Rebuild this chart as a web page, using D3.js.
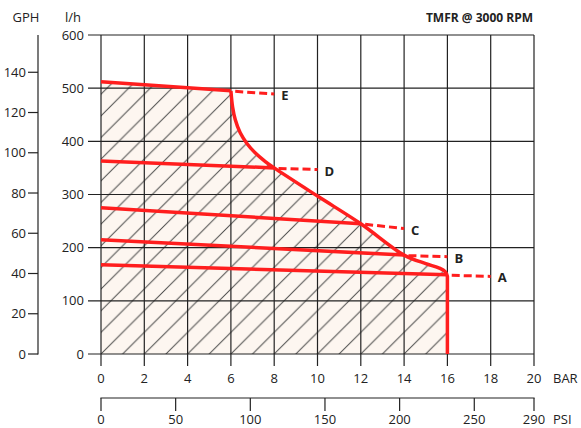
<!DOCTYPE html>
<html>
<head>
<meta charset="utf-8">
<script src="https://cdn.jsdelivr.net/npm/d3@7"></script>
<style>
  body { margin: 0; background: #fff; }
  text { font-family: "Open Sans", "DejaVu Sans", sans-serif; fill: #222; }
</style>
</head>
<body>
<svg id="chart" width="581" height="428"></svg>
<script>
// axis ticks
var barTicks = [0, 2, 4, 6, 8, 10, 12, 14, 16, 18, 20];
var lhTicks = [0, 100, 200, 300, 400, 500, 600];
var gphTicks = [0, 20, 40, 60, 80, 100, 120, 140];
var psiTicks = [0, 50, 100, 150, 200, 250, 290];

// operating envelope (bar, l/h)
var envelopeTop = [[0, 512], [6, 495]];
var envelopeCurve = [
  [6, 495], [6.08, 464], [6.2, 441], [6.43, 416], [6.74, 396], [7.13, 378],
  [7.59, 362], [8, 350], [10, 297], [12, 245], [14, 186], [15, 170],
  [15.6, 162], [15.9, 155], [16, 146]
];
var maxPressure = 16;

// flow curves: label, solid start, junction with envelope, dashed end
var curveNames = ["A", "B", "C", "D", "E"];
var curveStart = [[0, 168], [0, 215], [0, 275], [0, 363], [0, 512]];
var curveJoin = [[16, 149], [14, 186], [12, 245], [8, 350], [6, 495]];
var curveEnd = [[18, 146], [16, 183], [14, 236], [10, 347], [8, 489]];

var svg = d3.select("#chart");
var red = "#ff1e1e";

var x = d3.scaleLinear().domain([0, 20]).range([101, 534]);
var y = d3.scaleLinear().domain([0, 600]).range([354, 35]);
var gph = d3.scaleLinear().domain([0, 600 / 3.785]).range([354, 35]);
var psi = d3.scaleLinear().domain([0, 290]).range([101, 534]);

// hatch pattern
var defs = svg.append("defs");
var pat = defs.append("pattern")
  .attr("id", "hatch")
  .attr("patternUnits", "userSpaceOnUse")
  .attr("width", 21.65).attr("height", 21.65)
  .attr("x", x(0)).attr("y", y(0));
pat.append("rect").attr("width", 21.65).attr("height", 21.65).attr("fill", "#fdf6f0");
pat.append("path")
  .attr("d", "M0,21.65 L21.65,0 M-5,5 L5,-5 M16.65,26.65 L26.65,16.65")
  .attr("stroke", "#4a4a4a").attr("stroke-width", 1);

var straight = d3.line().x(d => x(d[0])).y(d => y(d[1]));
var smooth = d3.line().x(d => x(d[0])).y(d => y(d[1])).curve(d3.curveCatmullRom.alpha(0.5));

var curvePath = smooth(envelopeCurve);
var fillPath = "M" + x(0) + "," + y(envelopeTop[0][1]) + "L" + curvePath.slice(1)
  + "L" + x(maxPressure) + "," + y(0) + "L" + x(0) + "," + y(0) + "Z";
svg.append("path").attr("d", fillPath).attr("fill", "url(#hatch)");

// grid
var grid = svg.append("g").attr("stroke", "#222").attr("stroke-width", 1.2);
grid.selectAll(".v").data(barTicks).join("line")
  .attr("x1", d => x(d)).attr("x2", d => x(d))
  .attr("y1", y(600)).attr("y2", y(0) + 12);
grid.selectAll(".h").data(lhTicks).join("line")
  .attr("x1", x(0) - 13).attr("x2", x(20))
  .attr("y1", d => y(d)).attr("y2", d => y(d));

// bar labels
svg.append("g").selectAll("text").data(barTicks).join("text")
  .attr("x", d => x(d)).attr("y", 383)
  .attr("text-anchor", "middle").attr("font-size", 13)
  .text(d => d);
svg.append("text").attr("x", 553).attr("y", 383).attr("font-size", 13).text("BAR");

// l/h labels
svg.append("g").selectAll("text").data(lhTicks).join("text")
  .attr("x", 84).attr("y", d => y(d) + 4.5)
  .attr("text-anchor", "end").attr("font-size", 13)
  .text(d => d);
svg.append("text").attr("x", 73).attr("y", 22).attr("text-anchor", "middle")
  .attr("font-size", 13).text("l/h");

// GPH axis
var gAxis = svg.append("g").attr("stroke", "#222").attr("stroke-width", 1.2);
gAxis.append("line").attr("x1", 38).attr("x2", 38).attr("y1", y(600)).attr("y2", y(0) + 0.6);
gAxis.selectAll(".t").data(gphTicks).join("line")
  .attr("x1", 28).attr("x2", 38)
  .attr("y1", d => gph(d)).attr("y2", d => gph(d));
svg.append("g").selectAll("text").data(gphTicks).join("text")
  .attr("x", 26).attr("y", d => gph(d) + 4.5)
  .attr("text-anchor", "end").attr("font-size", 13)
  .text(d => d);
svg.append("text").attr("x", 26).attr("y", 22).attr("text-anchor", "middle")
  .attr("font-size", 13).text("GPH");

// PSI axis
var pAxis = svg.append("g").attr("stroke", "#222").attr("stroke-width", 1.2);
pAxis.append("line").attr("x1", psi(0) - 0.6).attr("x2", psi(290) + 0.6).attr("y1", 398).attr("y2", 398);
pAxis.selectAll(".t").data(psiTicks).join("line")
  .attr("x1", d => psi(d)).attr("x2", d => psi(d))
  .attr("y1", 398).attr("y2", 411);
svg.append("g").selectAll("text").data(psiTicks).join("text")
  .attr("x", d => psi(d)).attr("y", 424)
  .attr("text-anchor", "middle").attr("font-size", 13)
  .text(d => d);
svg.append("text").attr("x", 553).attr("y", 424).attr("font-size", 13).text("PSI");

// title
svg.append("text").attr("x", 533).attr("y", 22).attr("text-anchor", "end")
  .attr("font-size", 12).attr("font-weight", "bold").text("TMFR @ 3000 RPM");

// envelope boundary
svg.append("path")
  .attr("d", curvePath + "L" + x(maxPressure) + "," + y(0))
  .attr("fill", "none").attr("stroke", red).attr("stroke-width", 3.5)
  .attr("stroke-linejoin", "round");

// flow curves
curveNames.forEach((name, i) => {
  svg.append("path")
    .attr("d", straight([curveStart[i], curveJoin[i]]))
    .attr("fill", "none").attr("stroke", red).attr("stroke-width", 3.5);
  svg.append("path")
    .attr("d", straight([[curveJoin[i][0] + 0.2, curveJoin[i][1] - 1], curveEnd[i]]))
    .attr("fill", "none").attr("stroke", red).attr("stroke-width", 3)
    .attr("stroke-dasharray", "8,4");
  svg.append("text")
    .attr("x", x(curveEnd[i][0]) + 7).attr("y", y(curveEnd[i][1]) + 6)
    .attr("font-size", 13).attr("font-weight", "bold")
    .text(name);
});
</script>
</body>
</html>
